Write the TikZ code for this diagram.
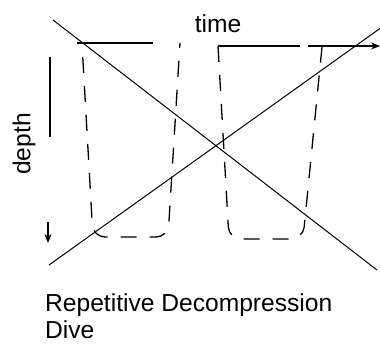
\documentclass[tikz,border=0pt]{standalone}
\usepackage{fontspec}
\setmainfont{Liberation Sans}
\usetikzlibrary{arrows.meta}
\begin{document}
\begin{tikzpicture}[x=1pt, y=-1pt,
	axisline/.style={line width=1.3pt},
	crossline/.style={line width=1pt},
	profile/.style={line width=1.3pt, dash pattern=on 16pt off 13pt, rounded corners=12pt},
	lbl/.style={inner sep=0pt, font=\fontsize{24.6}{27}\selectfont}]
	\useasboundingbox (0,0) rectangle (380,347);
	% Paths, nodes and wires:
	\coordinate (t1) at (77,43);  \coordinate (t2) at (153,43);
	\coordinate (t3) at (218,46); \coordinate (t4) at (300,46);
	\coordinate (t5) at (308,46); \coordinate (t6) at (380,46);
	\coordinate (d1) at (50,57);  \coordinate (d2) at (50,137);
	\coordinate (d3) at (48,222); \coordinate (d4) at (48,243);
	\draw[crossline] (53,20) -- (377,270);
	\draw[crossline] (49,265) -- (382,27);
	\draw[axisline] (t1) -- (t2);
	\draw[axisline] (t3) -- (t4);
	\draw[axisline, -{Stealth[length=9pt, width=7pt]}] (t5) -- (t6);
	\draw[axisline] (d1) -- (d2);
	\draw[axisline, -{Stealth[length=9pt, width=7pt]}] (d3) -- (d4);
	\draw[profile, dash phase=16pt] (82,44) -- (93,237) -- (168,237) -- (180,43);
	\draw[profile] (218,46) -- (229,239) -- (303,239) -- (322,47);
	\node[lbl, anchor=north west, align=left] (caption) at (45,293) {Repetitive Decompression\\Dive};
	\node[lbl, anchor=base] (time) at (218,33) {time};
	\node[lbl, rotate=90] (depth) at (24,144) {depth};
\end{tikzpicture}
\end{document}
